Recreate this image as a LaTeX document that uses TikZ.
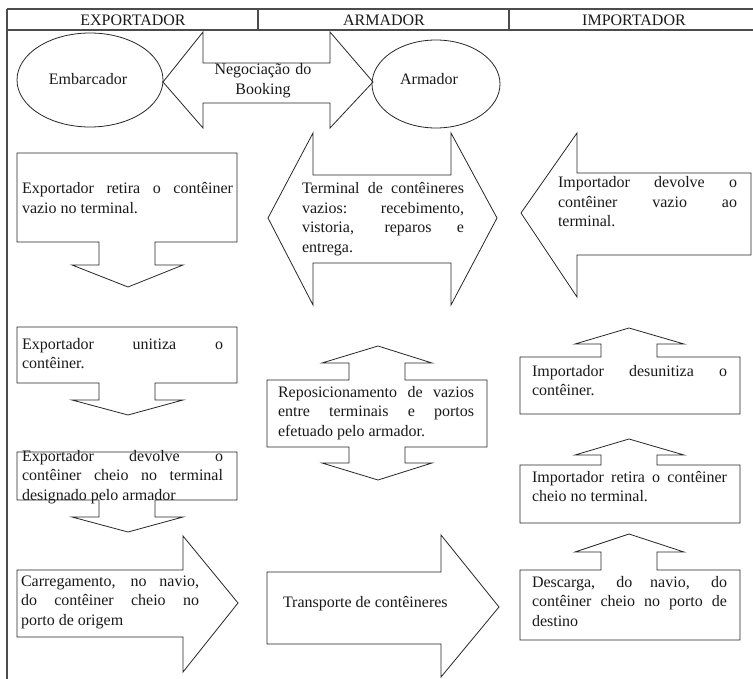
\documentclass[tikz,border=0pt]{standalone}
\usepackage{fontspec}
\setmainfont{Liberation Serif}
\tolerance=10000 \hyphenpenalty=10000 \hbadness=10000
\begin{document}
\begin{tikzpicture}[x=1pt,y=-1pt,
  frame/.style={draw=black!70, line width=1.2pt},
  shapeline/.style={draw=black!85, line width=0.8pt, line join=miter},
  lbl/.style={inner sep=0pt, outer sep=0pt, text=black!90, font=\fontsize{16}{19.5}\selectfont},
  para/.style={lbl, align=justify, anchor=base west, text width=#1},
  head/.style={lbl, anchor=base}]
\useasboundingbox (0,0) rectangle (753,679);

% table frame and column headings
\draw[frame] (7,9) -- (753,9);
\draw[frame] (7,30) -- (753,30);
\draw[frame] (7,9) -- (7,679);
\draw[frame] (258,9) -- (258,30);
\draw[frame] (509,9) -- (509,30);
\node[head] (hexp) at (133,26) {EXPORTADOR};
\node[head] (harm) at (384,26) {ARMADOR};
\node[head] (himp) at (634,26) {IMPORTADOR};

% booking negotiation
\draw[shapeline] (90,80) ellipse [x radius=73pt, y radius=47pt];
\node[head] (emb) at (88,85) {Embarcador};
\draw[shapeline] (163,82) -- (203,32) -- (203,63) -- (330,63) -- (330,32) -- (373,82)
  -- (330,128) -- (330,103) -- (203,103) -- (203,128) -- cycle;
\node[lbl, text width=130pt, align=center, anchor=base] (neg) at (263,75) {Negociação do\\Booking};
\draw[shapeline] (436,84) ellipse [x radius=64pt, y radius=44pt];
\node[head] (arm) at (429,85) {Armador};

% exporter column
\draw[shapeline] (17,153) -- (237,153) -- (237,242) -- (155,242) -- (155,265) -- (183,265)
  -- (128,287) -- (72,265) -- (99,265) -- (99,242) -- (17,242) -- cycle;
\node[para=211] (e1) at (22,194) {Exportador retira o contêiner\linebreak vazio no terminal.};

\draw[shapeline] (17,327) -- (237,327) -- (237,383) -- (155,383) -- (155,400) -- (183,400)
  -- (128,415) -- (72,400) -- (99,400) -- (99,383) -- (17,383) -- cycle;
\node[para=201] (e2) at (22,349) {Exportador unitiza o\linebreak contêiner.};

\draw[shapeline] (17,452) -- (237,452) -- (237,500) -- (155,500) -- (155,517) -- (183,517)
  -- (128,532) -- (72,517) -- (99,517) -- (99,500) -- (17,500) -- cycle;
\node[para=201] (e3) at (22,461) {Exportador devolve o\linebreak contêiner cheio no terminal\linebreak designado pelo armador};

\draw[shapeline] (17,570) -- (183,570) -- (183,536) -- (238,603) -- (183,672) -- (183,637)
  -- (17,637) -- cycle;
\node[para=178] (e4) at (21,586) {Carregamento, no navio,\linebreak do contêiner cheio no\linebreak porto de origem};

% shipowner column
\draw[shapeline] (268,218) -- (313,133) -- (313,175) -- (451,175) -- (451,133) -- (497,218)
  -- (451,305) -- (451,263) -- (313,263) -- (313,305) -- cycle;
\node[para=162] (a1) at (302,194) {Terminal de contêineres\linebreak vazios: recebimento,\linebreak vistoria, reparos e\linebreak entrega.};

\draw[shapeline] (267,380) -- (349,380) -- (349,363) -- (322,363) -- (378,346) -- (432,363)
  -- (405,363) -- (405,380) -- (487,380) -- (487,447) -- (405,447) -- (405,463) -- (432,463)
  -- (378,480) -- (322,463) -- (349,463) -- (349,447) -- (267,447) -- cycle;
\node[para=196] (a2) at (278,397) {Reposicionamento de vazios\linebreak entre terminais e portos\linebreak efetuado pelo armador.};

\draw[shapeline] (267,572) -- (441,572) -- (441,535) -- (499,607) -- (441,677) -- (441,644)
  -- (267,644) -- cycle;
\node[para=180] (a3) at (283,607) {Transporte de contêineres};

% importer column
\draw[shapeline] (521,213) -- (577,133) -- (577,173) -- (751,173) -- (751,255) -- (577,255)
  -- (577,297) -- cycle;
\node[para=179] (i1) at (558,188) {Importador devolve o\linebreak contêiner vazio ao\linebreak terminal.};

\draw[shapeline] (520,357) -- (601,357) -- (601,344) -- (575,344) -- (629,328) -- (684,344)
  -- (657,344) -- (657,357) -- (740,357) -- (740,414) -- (520,414) -- cycle;
\node[para=195] (i2) at (532,376) {Importador desunitiza o\linebreak contêiner.};

\draw[shapeline] (520,465) -- (601,465) -- (601,455) -- (575,455) -- (629,439) -- (684,455)
  -- (657,455) -- (657,465) -- (740,465) -- (740,523) -- (520,523) -- cycle;
\node[para=195] (i3) at (532,482) {Importador retira o contêiner\linebreak cheio no terminal.};

\draw[shapeline] (520,570) -- (601,570) -- (601,552) -- (575,552) -- (629,534) -- (684,552)
  -- (657,552) -- (657,570) -- (740,570) -- (740,640) -- (520,640) -- cycle;
\node[para=195] (i4) at (532,587) {Descarga, do navio, do\linebreak contêiner cheio no porto de\linebreak destino};
\end{tikzpicture}
\end{document}
